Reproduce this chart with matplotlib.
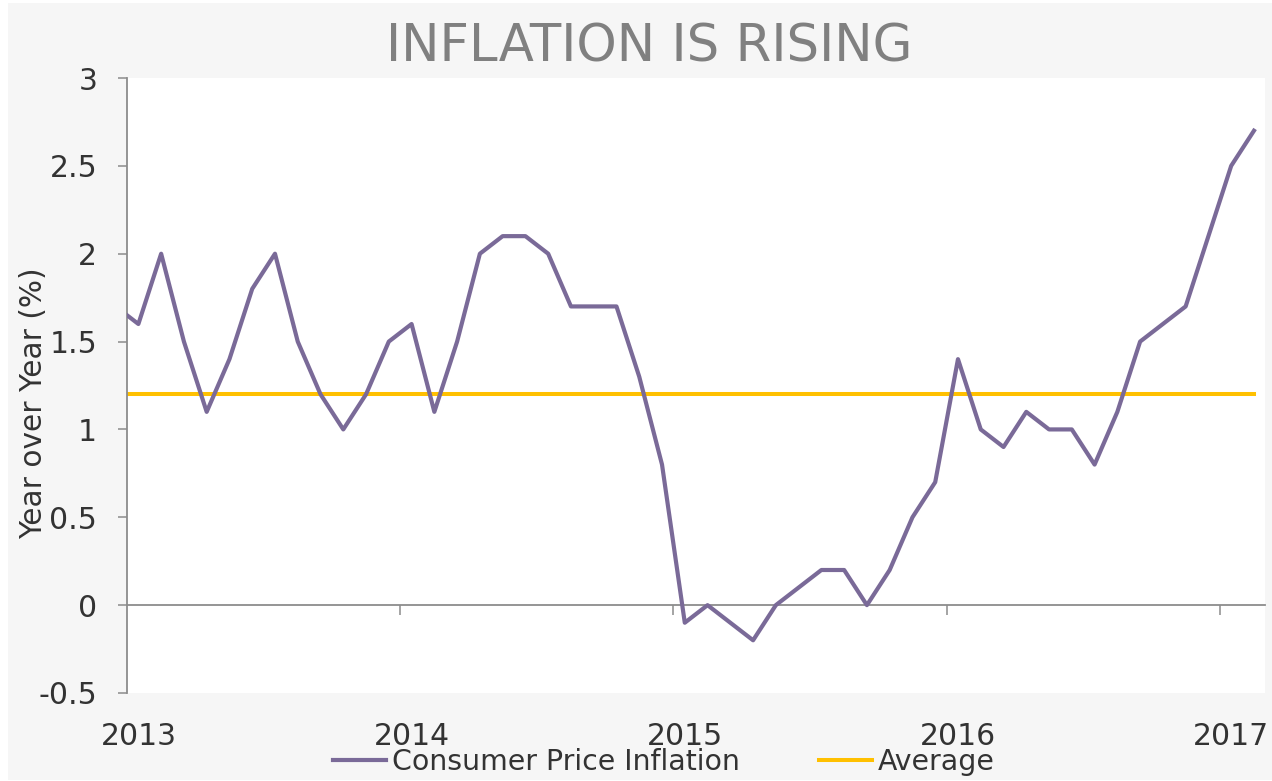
import matplotlib
matplotlib.use("Agg")
import matplotlib.pyplot as plt
from matplotlib.patches import Rectangle
import pandas as pd

# ---- data ----
start_month = "2012-12"
cpi = [1.7,
       1.6, 2.0, 1.5, 1.1, 1.4, 1.8, 2.0, 1.5, 1.2, 1.0, 1.2, 1.5,
       1.6, 1.1, 1.5, 2.0, 2.1, 2.1, 2.0, 1.7, 1.7, 1.7, 1.3, 0.8,
       -0.1, 0.0, -0.1, -0.2, 0.0, 0.1, 0.2, 0.2, 0.0, 0.2, 0.5, 0.7,
       1.4, 1.0, 0.9, 1.1, 1.0, 1.0, 0.8, 1.1, 1.5, 1.6, 1.7, 2.1,
       2.5, 2.7]
average = 1.2
years = [2013, 2014, 2015, 2016, 2017]
year_labels = ["2013", "2014", "2015", "2016", "2017"]
y_ticks = [-0.5, 0, 0.5, 1, 1.5, 2, 2.5, 3]
y_tick_labels = ["-0.5", "0", "0.5", "1", "1.5", "2", "2.5", "3"]
title = "INFLATION IS RISING"
ylabel = "Year over Year (%)"
series_names = ["Consumer Price Inflation", "Average"]

# month positions as decimal years (mid-month)
periods = pd.period_range(start_month, periods=len(cpi), freq="M")
x = [p.year + (p.month - 0.5) / 12 for p in periods]

purple = "#7A6A98"
gold = "#FFC000"
axis_gray = "#8C8C8C"
text_dark = "#333333"

plt.rcParams['font.family'] = ['DejaVu Sans']

W, H = 1272, 781
fig = plt.figure(figsize=(W / 100, H / 100), dpi=100, facecolor="white")
fig.patches.append(Rectangle((8 / W, 1 / H), 1 - 8 / W, 1 - 4 / H, transform=fig.transFigure,
                             facecolor="#F6F6F6", edgecolor="none", zorder=-10))

ax = fig.add_axes([127 / W, 1 - 693 / H, (1265 - 127) / W, (693 - 78) / H])
ax.set_facecolor("white")

ax.plot(x, cpi, color=purple, lw=3.0, solid_joinstyle="round", label=series_names[0], zorder=3, clip_on=True)
ax.plot([x[0], x[-1]], [average, average], color=gold, lw=2.9, label=series_names[1], zorder=2)

ax.set_xlim(2013.0, 2013.0 + (1265 - 127) / 273.2)
ax.set_ylim(-0.5, 3)

ax.set_yticks(y_ticks)
ax.set_yticklabels(y_tick_labels)
ax.tick_params(axis="y", length=6.5, width=1.1, color=axis_gray, labelsize=21.5,
               labelcolor=text_dark, pad=15)

for s in ["top", "right"]:
    ax.spines[s].set_visible(False)
ax.spines["left"].set_color(axis_gray)
ax.spines["left"].set_linewidth(1.3)
ax.spines["bottom"].set_position(("data", 0))
ax.spines["bottom"].set_color(axis_gray)
ax.spines["bottom"].set_linewidth(1.3)

ax.set_xticks(years[1:])
ax.tick_params(axis="x", length=7, width=1.1, color=axis_gray, labelbottom=False)

xt = ax.get_xaxis_transform()
for yr, lab in zip(years, year_labels):
    ax.text(yr + 0.5 / 12, -0.07, lab, transform=xt, ha="center", va="center",
            fontsize=21.5, color=text_dark, clip_on=False)

ax.set_ylabel(ylabel, fontsize=21.3, color=text_dark)
ax.yaxis.set_label_coords(-0.0695, 0.472)

fig.text(649 / W, 1 - 47 / H, title, ha="center", va="center", fontsize=37, color="#808080")

leg = fig.legend(loc="center", bbox_to_anchor=(664 / W, 1 - 762 / H), ncol=2, frameon=False,
                 fontsize=20.4, handlelength=1.87, handletextpad=0.2, columnspacing=2.8,
                 labelcolor=text_dark, borderaxespad=0, borderpad=0)

fig.savefig("out.png", dpi=100, facecolor=fig.get_facecolor())
